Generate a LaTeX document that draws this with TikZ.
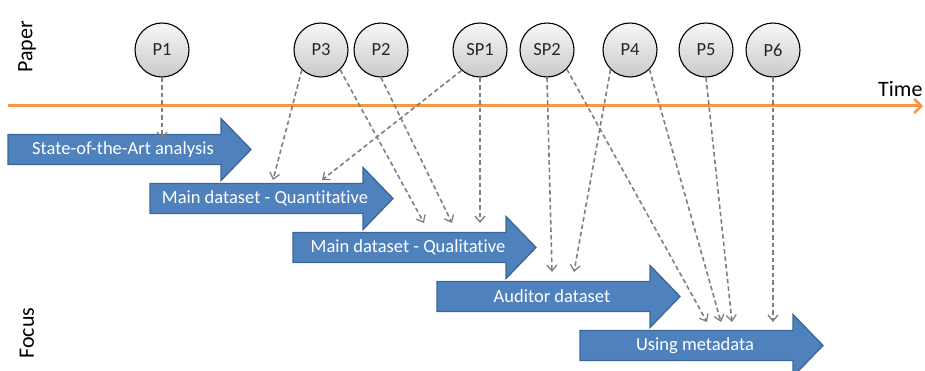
\documentclass[tikz,border=0pt]{standalone}
\usepackage{fontspec}
\setmainfont[Ligatures=NoCommon]{Carlito}
\usetikzlibrary{arrows.meta}
\definecolor{tlorange}{HTML}{F79646}
\definecolor{blkfill}{HTML}{4F81BD}
\definecolor{blkedge}{HTML}{3A669B}
\definecolor{dashgray}{HTML}{7F7F7F}
\tikzset{
  paper/.style={circle,draw=black,line width=1.1pt,minimum size=54pt,inner sep=0pt,
    top color=gray!6,bottom color=gray!42,text=black!85,font=\fontsize{18.5}{20}\selectfont},
  link/.style={draw=dashgray,line width=1.6pt,dash pattern=on 4.5pt off 3pt,
    -{Straight Barb[length=6pt,width=10pt,line width=1.3pt]}},
  blk/.style={fill=blkfill,draw=blkedge,line width=1.3pt,line join=miter},
  blktext/.style={text=white,font=\fontsize{18.5}{20}\selectfont,inner sep=0pt},
  axislabel/.style={font=\fontsize{22}{24}\selectfont,text=black,inner sep=0pt}
}
\newcommand{\blkarrow}[4]{% x0, yc, name, text
  \draw[blk] (#1,#2-15) -- ++(213,0) -- ++(0,-16) -- ++(30,31) -- ++(-30,31) -- ++(0,-16) -- ++(-213,0) -- cycle;
  \node[blktext] (#3) at (#1+115,#2) {#4};
}
\begin{document}
\begin{tikzpicture}[x=1pt,y=-1pt]
\useasboundingbox (0,0) rectangle (925,371);
% axis labels
\node[axislabel,rotate=90] (paperlbl) at (27,47) {Paper};
\node[axislabel,rotate=90] (focuslbl) at (27,333) {Focus};
% timeline
\coordinate (tl0) at (8,106);
\coordinate (tl1) at (923,106);
\draw[tlorange,line width=3pt,-{Straight Barb[length=7pt,width=14pt,line width=2.5pt]}] (tl0) -- (tl1);
\node[axislabel,anchor=base west] (timelbl) at (878,97) {Time};
% block arrows
\blkarrow{8}{149.5}{sota}{State-of-the-Art analysis}
\blkarrow{150}{198.5}{quant}{Main dataset - Quantitative}
\blkarrow{293}{247.5}{qual}{Main dataset - Qualitative}
\blkarrow{437}{296.5}{aud}{Auditor dataset}
\blkarrow{580}{345.5}{meta}{Using metadata}
% papers
\node[paper] (P1) at (162,50) {P1};
\node[paper] (P3) at (321,50) {P3};
\node[paper] (P2) at (381,50) {P2};
\node[paper] (SP1) at (480,50) {SP1};
\node[paper] (SP2) at (547,50) {SP2};
\node[paper] (P4) at (630,50) {P4};
\node[paper] (P5) at (706,50) {P5};
\node[paper] (P6) at (773,50) {P6};
% targets
\coordinate (tSota) at (162,139);
\coordinate (tQuantA) at (273,180);
\coordinate (tQuantB) at (322,180);
\coordinate (tQualA) at (424,223);
\coordinate (tQualB) at (452,223);
\coordinate (tQualC) at (480,223);
\coordinate (tAudA) at (552,272);
\coordinate (tAudB) at (574,272);
\coordinate (tMetaA) at (707,322);
\coordinate (tMetaB) at (721,322);
\coordinate (tMetaC) at (732,322);
\coordinate (tMetaD) at (773,322);
% links
\draw[link] (P1.south) -- (tSota);
\draw[link] (P3.226) -- (tQuantA);
\draw[link] (SP1.228) -- (tQuantB);
\draw[link] (P3.314) -- (tQualA);
\draw[link] (P2.south) -- (tQualB);
\draw[link] (SP1.south) -- (tQualC);
\draw[link] (SP2.south) -- (tAudA);
\draw[link] (P4.225) -- (tAudB);
\draw[link] (SP2.316) -- (tMetaA);
\draw[link] (P4.315) -- (tMetaB);
\draw[link] (P5.south) -- (tMetaC);
\draw[link] (P6.south) -- (tMetaD);
\end{tikzpicture}
\end{document}
